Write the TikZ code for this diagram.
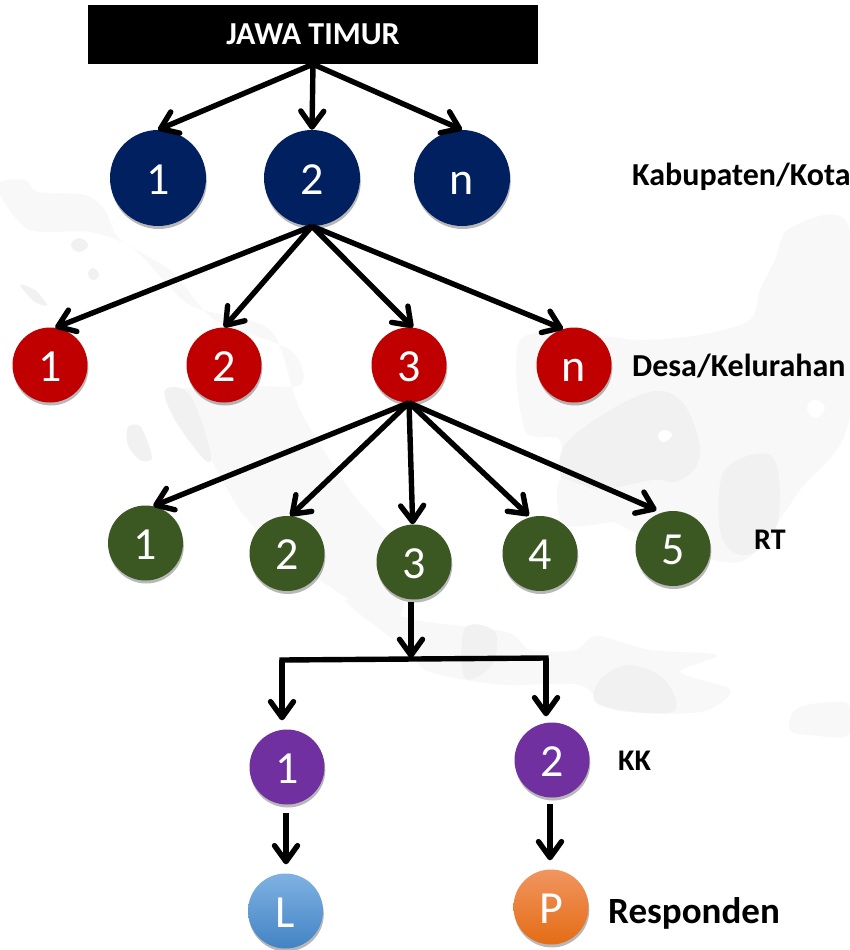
\documentclass[tikz,border=0pt]{standalone}
\usepackage{fontspec}
\setmainfont{Carlito}
\usetikzlibrary{arrows.meta,shadows}
\definecolor{navyc}{HTML}{002060}
\definecolor{redc}{HTML}{C00000}
\definecolor{greenc}{HTML}{3B5722}
\definecolor{purplec}{HTML}{7030A0}
\definecolor{mapc}{HTML}{F8F8F8}
\definecolor{mapd}{HTML}{F1F1F1}
\definecolor{blueT}{HTML}{7FB2E2}
\definecolor{blueM}{HTML}{5B9BD5}
\definecolor{blueB}{HTML}{4383C4}
\definecolor{orT}{HTML}{F19560}
\definecolor{orM}{HTML}{F58030}
\definecolor{orB}{HTML}{E46C14}
\tikzset{
  x=1pt,y=-1pt,
  ball/.style={circle,inner sep=0pt,text=white,font=\fontsize{46}{46}\selectfont,text height=32pt,text depth=0pt,
    drop shadow={shadow xshift=0.8pt,shadow yshift=-3pt,opacity=.28,fill=black}},
  bigball/.style={ball,fill=navyc,minimum size=96pt},
  redball/.style={ball,fill=redc,minimum size=75pt},
  greenball/.style={ball,fill=greenc,minimum size=75pt},
  purpleball/.style={ball,fill=purplec,minimum size=75pt},
  lball/.style={ball,minimum size=75pt,top color=blueT,middle color=blueM,bottom color=blueB},
  pball/.style={ball,minimum size=75pt,top color=orT,middle color=orM,bottom color=orB},
  lab/.style={font=\bfseries\fontsize{32}{32}\selectfont,text=black,inner sep=0pt,anchor=west},
  smalllab/.style={lab,font=\bfseries\fontsize{30}{30}\selectfont},
  biglab/.style={lab,font=\bfseries\fontsize{37}{37}\selectfont},
  conn/.style={line width=5.4pt,-{Straight Barb[length=16pt,width=23pt,line width=5.4pt,round]}},
  plainline/.style={line width=5.4pt,line cap=rect},
  mapa/.style={fill=mapc,draw=none},
  mapb/.style={fill=mapd,draw=none}
}
\begin{document}
\begin{tikzpicture}
\useasboundingbox (0,0) rectangle (849,950);
\fill[white] (0,0) rectangle (849,950);
% faint map
\fill[mapa] plot[smooth cycle,tension=.5] coordinates {(0,182) (25,180) (38,192) (85,195) (105,210) (120,240) (170,270) (215,320) (290,350) (300,385) (230,385) (165,395) (200,440) (240,510) (285,555) (350,600) (395,625) (405,560) (350,490) (300,410) (270,330) (190,305) (135,250) (90,232) (30,230) (0,195)};
\fill[mapb] plot[smooth cycle,tension=.6] coordinates {(165,390) (190,395) (210,450) (205,460) (175,420)};
\fill[mapb] plot[smooth cycle,tension=.8] coordinates {(79,238) (88,245) (79,252) (71,245)};
\fill[mapb] plot[smooth cycle,tension=.8] coordinates {(93,268) (99,275) (93,280) (88,274)};
\fill[mapb] plot[smooth cycle,tension=.5] coordinates {(128,427) (141,427) (152,458) (140,460) (128,445)};
\fill[mapb] plot[smooth cycle,tension=.5] coordinates {(20,285) (35,290) (47,305) (35,302)};
\fill[mapa] plot[smooth cycle,tension=.5] coordinates {(790,228) (849,227) (849,420) (800,490) (745,560) (680,550) (630,530) (565,490) (560,440) (525,430) (520,340) (590,335) (640,340) (700,335) (750,320) (760,290) (775,260)};
\fill[mapb] plot[smooth cycle,tension=.6] coordinates {(565,445) (640,395) (680,400) (700,450) (680,480) (610,490) (570,495)};
\fill[mapb] plot[smooth cycle,tension=.6] coordinates {(725,470) (770,455) (780,500) (770,540) (740,555) (720,530)};
\fill[mapc] plot[smooth cycle,tension=.5] coordinates {(560,480) (600,490) (660,480) (700,500) (690,525) (630,520) (565,525)};
\fill[white] plot[smooth cycle,tension=.8] coordinates {(664,430) (672,435) (664,442) (658,436)};
\fill[white] plot[smooth cycle,tension=.8] coordinates {(815,400) (825,408) (815,418) (807,408)};
\fill[mapa] plot[smooth cycle,tension=.5] coordinates {(345,600) (415,620) (506,632) (530,650) (575,650) (597,636) (650,650) (717,655) (680,672) (730,690) (700,712) (614,710) (580,685) (510,685) (465,680) (425,670) (407,650)};
\fill[mapb] plot[smooth cycle,tension=.6] coordinates {(465,628) (495,632) (492,665) (465,678)};
\fill[mapb] plot[smooth cycle,tension=.6] coordinates {(600,680) (630,665) (665,680) (672,712) (600,705)};
\fill[mapa] plot[smooth cycle,tension=.6] coordinates {(795,710) (820,703) (849,705) (849,735) (810,735) (790,730)};
% nodes
\node[fill=black,minimum width=450pt,minimum height=59pt,inner sep=0pt,text=white,font=\bfseries\fontsize{32}{32}\selectfont] (top) at (313,34.5) {JAWA TIMUR};
\node[bigball] (b1) at (158,178) {1};
\node[bigball] (b2) at (312,178) {2};
\node[bigball] (bn) at (462,178) {n};
\node[redball] (r1) at (50,365) {1};
\node[redball] (r2) at (224,365) {2};
\node[redball] (r3) at (409,365) {3};
\node[redball] (rn) at (574,365) {n};
\node[greenball] (g1) at (145.5,543) {1};
\node[greenball] (g2) at (287,553.5) {2};
\node[greenball] (g3) at (414,562) {3};
\node[greenball] (g4) at (540,553.5) {4};
\node[greenball] (g5) at (673,548.5) {5};
\node[purpleball] (p1) at (287,767) {1};
\node[purpleball] (p2) at (552,760) {2};
\node[lball] (ll) at (285.5,911) {L};
\node[pball] (pp) at (551,907) {P};
\node[lab] (t1) at (632,177) {Kabupaten/Kota};
\node[lab] (t2) at (632,365.5) {Desa/Kelurahan};
\node[smalllab] (t3) at (754,540) {RT};
\node[smalllab] (t4) at (618,760.5) {KK};
\node[biglab] (t5) at (608,913.5) {Responden};
% connectors
\coordinate (tree) at (411,658);
\coordinate (bl) at (282,660);
\coordinate (br) at (546,658);
\draw[conn] (top.south) -- (b1.90);
\draw[conn] (top.south) -- (b2.north);
\draw[conn] (top.south) -- (bn.90);
\draw[conn] (b2.south) -- (r1.82);
\draw[conn] (b2.south) -- (r2.north);
\draw[conn] (b2.south) -- (r3.84);
\draw[conn] (b2.south) -- (rn.107);
\draw[conn] (r3.south) -- (g1.78);
\draw[conn] (r3.south) -- (g2.85);
\draw[conn] (r3.south) -- (g3.92);
\draw[conn,shorten >=2pt] (r3.south) -- (g4.105);
\draw[conn,shorten >=6pt] (r3.south) -- (g5.107);
\draw[conn] (411,602) -- (tree);
\draw[plainline] (bl) -- (br);
\draw[conn,shorten >=9pt] (bl) -- (p1.north -| bl);
\draw[conn,shorten >=6pt] (br) -- (p2.north -| br);
\draw[conn,shorten >=9pt] (p1.south) ++(-1,8) -- (ll.north -| 286,0);
\draw[conn,shorten >=9pt] (550,804) -- (pp.north -| 550,0);
\end{tikzpicture}
\end{document}
